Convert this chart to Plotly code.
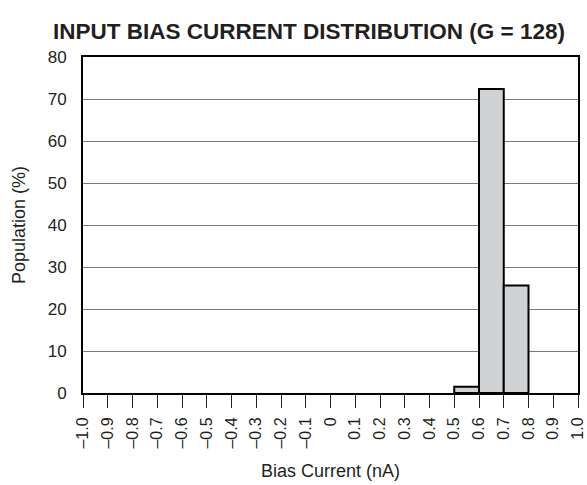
import plotly.graph_objects as go

# Data
bin_centers = [0.55, 0.65, 0.75]
population = [1.5, 72.4, 25.6]
bin_width = 0.1
x_tick_vals = [round(-1.0 + 0.1 * i, 1) for i in range(21)]
x_tick_text = ["–1.0", "–0.9", "–0.8", "–0.7", "–0.6", "–0.5", "–0.4", "–0.3", "–0.2", "–0.1",
               "0", "0.1", "0.2", "0.3", "0.4", "0.5", "0.6", "0.7", "0.8", "0.9", "1.0"]
y_tick_vals = [0, 10, 20, 30, 40, 50, 60, 70, 80]

font_family = "Liberation Sans, Arial, Helvetica, sans-serif"
ink = "#231f20"

fig = go.Figure()
fig.add_trace(go.Bar(
    x=bin_centers,
    y=population,
    width=[bin_width] * len(bin_centers),
    marker=dict(color="#d1d2d4", line=dict(color="black", width=2)),
    showlegend=False,
    hoverinfo="skip",
))

fig.update_layout(
    width=587, height=485,
    margin=dict(l=83, r=9, t=57, b=92, autoexpand=False),
    paper_bgcolor="white",
    plot_bgcolor="white",
    font=dict(family=font_family, size=16, color=ink),
    title=dict(
        text="<b>INPUT BIAS CURRENT DISTRIBUTION (G = 128)</b>",
        x=309 / 587, xanchor="center", y=1 - 31 / 485, yanchor="middle",
        font=dict(size=22.5, family=font_family, color=ink),
    ),
    xaxis=dict(
        range=[-1.0, 1.0],
        automargin=False,
        tickmode="array", tickvals=x_tick_vals, ticktext=x_tick_text,
        tickangle=-90,
        ticks="outside", ticklen=13, tickwidth=1, tickcolor=ink,
        ticklabelstandoff=3,
        showgrid=False, zeroline=False,
        showline=True, linecolor="black", linewidth=2, mirror=True,
        title=dict(text="Bias Current (nA)", standoff=17, font=dict(size=18)),
        tickfont=dict(size=16),
    ),
    yaxis=dict(
        range=[0, 80],
        automargin=False,
        tickmode="array", tickvals=y_tick_vals,
        ticks="", ticklabelstandoff=11,
        showgrid=True, gridcolor="#7a7b7d", gridwidth=1,
        zeroline=False,
        showline=True, linecolor="black", linewidth=2, mirror=True,
        title=dict(text="Population (%)", standoff=17, font=dict(size=18)),
        tickfont=dict(size=17),
    ),
    bargap=0,
)

fig.write_html(
    "out.html",
    config={"displayModeBar": False, "staticPlot": True},
    post_script="document.body.style.margin='0';",
)
